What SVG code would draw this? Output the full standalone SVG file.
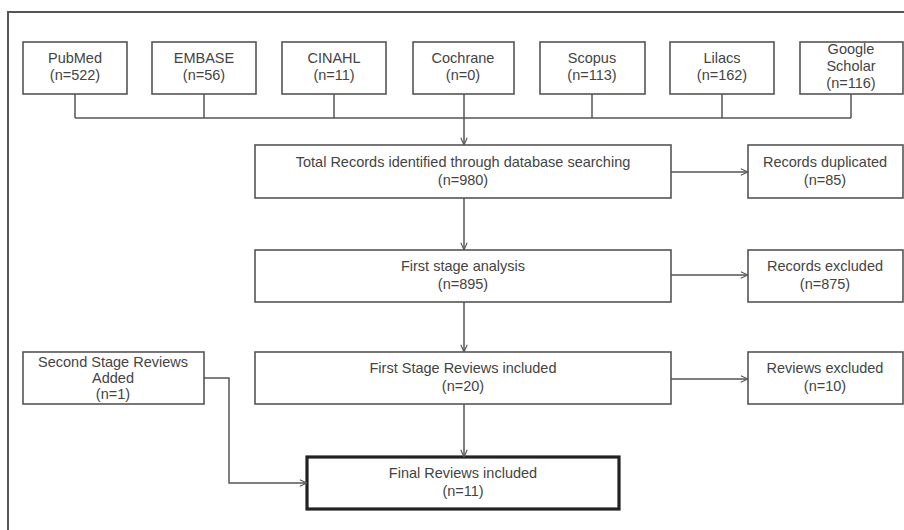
<svg xmlns="http://www.w3.org/2000/svg" width="904" height="530" viewBox="0 0 904 530">
<style>
.box{fill:#fff;stroke:#555;stroke-width:1.6}
.thick{fill:#fff;stroke:#222;stroke-width:3.2}
.t{font-family:"Liberation Sans",Arial,sans-serif;font-size:14.5px;fill:#444;text-anchor:middle}
.c{fill:none;stroke:#555;stroke-width:1.5}
</style>
<defs>
<marker id="arr" viewBox="0 0 10 10" refX="10" refY="5" markerWidth="8" markerHeight="8" orient="auto" markerUnits="userSpaceOnUse">
<polyline points="1,1 10,5 1,9" fill="none" stroke="#555" stroke-width="1.4"/>
</marker>
</defs>
<rect x="0" y="0" width="904" height="530" fill="#fff"/>
<rect x="8" y="12" width="910" height="530" fill="none" stroke="#555" stroke-width="2"/>

<g id="pubmed"><rect class="box" x="23" y="42" width="104" height="52"/><text class="t" x="75" y="63">PubMed</text><text class="t" x="75" y="80">(n=522)</text></g>
<g id="embase"><rect class="box" x="152" y="42" width="104" height="52"/><text class="t" x="204" y="63">EMBASE</text><text class="t" x="204" y="80">(n=56)</text></g>
<g id="cinahl"><rect class="box" x="282" y="42" width="104" height="52"/><text class="t" x="334" y="63">CINAHL</text><text class="t" x="334" y="80">(n=11)</text></g>
<g id="cochrane"><rect class="box" x="413" y="42" width="101" height="52"/><text class="t" x="463" y="63">Cochrane</text><text class="t" x="463" y="80">(n=0)</text></g>
<g id="scopus"><rect class="box" x="540" y="42" width="105" height="52"/><text class="t" x="592" y="63">Scopus</text><text class="t" x="592" y="80">(n=113)</text></g>
<g id="lilacs"><rect class="box" x="670" y="42" width="104" height="52"/><text class="t" x="722" y="63">Lilacs</text><text class="t" x="722" y="80">(n=162)</text></g>
<g id="google"><rect class="box" x="800" y="42" width="103" height="52"/><text class="t" x="851" y="54">Google</text><text class="t" x="851" y="71">Scholar</text><text class="t" x="851" y="88">(n=116)</text></g>

<g id="total"><rect class="box" x="255" y="145" width="416" height="53"/><text class="t" x="463" y="167">Total Records identified through database searching</text><text class="t" x="463" y="185">(n=980)</text></g>
<g id="duplicated"><rect class="box" x="748" y="145" width="155" height="53"/><text class="t" x="825" y="167">Records duplicated</text><text class="t" x="825" y="185">(n=85)</text></g>
<g id="first"><rect class="box" x="255" y="250" width="416" height="52"/><text class="t" x="463" y="271">First stage analysis</text><text class="t" x="463" y="289">(n=895)</text></g>
<g id="excluded"><rect class="box" x="748" y="250" width="155" height="52"/><text class="t" x="825" y="271">Records excluded</text><text class="t" x="825" y="289">(n=875)</text></g>
<g id="firstreviews"><rect class="box" x="255" y="352" width="416" height="52"/><text class="t" x="463" y="373">First Stage Reviews included</text><text class="t" x="463" y="391">(n=20)</text></g>
<g id="revexcluded"><rect class="box" x="748" y="352" width="155" height="52"/><text class="t" x="825" y="373">Reviews excluded</text><text class="t" x="825" y="391">(n=10)</text></g>
<g id="second"><rect class="box" x="23" y="352" width="181" height="52"/><text class="t" x="113" y="367">Second Stage Reviews</text><text class="t" x="113" y="383">Added</text><text class="t" x="113" y="399">(n=1)</text></g>
<g id="final"><rect class="thick" x="307" y="457" width="312" height="52"/><text class="t" x="463" y="478">Final Reviews included</text><text class="t" x="463" y="496">(n=11)</text></g>

<g id="connectors">
<path class="c" d="M75 94V118M204 94V118M334 94V118M592 94V118M722 94V118M851 94V118M75 118H851"/>
<path class="c" d="M464 94V145" marker-end="url(#arr)"/>
<path class="c" d="M464 198V250" marker-end="url(#arr)"/>
<path class="c" d="M464 302V352" marker-end="url(#arr)"/>
<path class="c" d="M464 404V457" marker-end="url(#arr)"/>
<path class="c" d="M671 172H748" marker-end="url(#arr)"/>
<path class="c" d="M671 275H748" marker-end="url(#arr)"/>
<path class="c" d="M671 379H748" marker-end="url(#arr)"/>
<path class="c" d="M204 378H229V483H307" marker-end="url(#arr)"/>
</g>
</svg>
